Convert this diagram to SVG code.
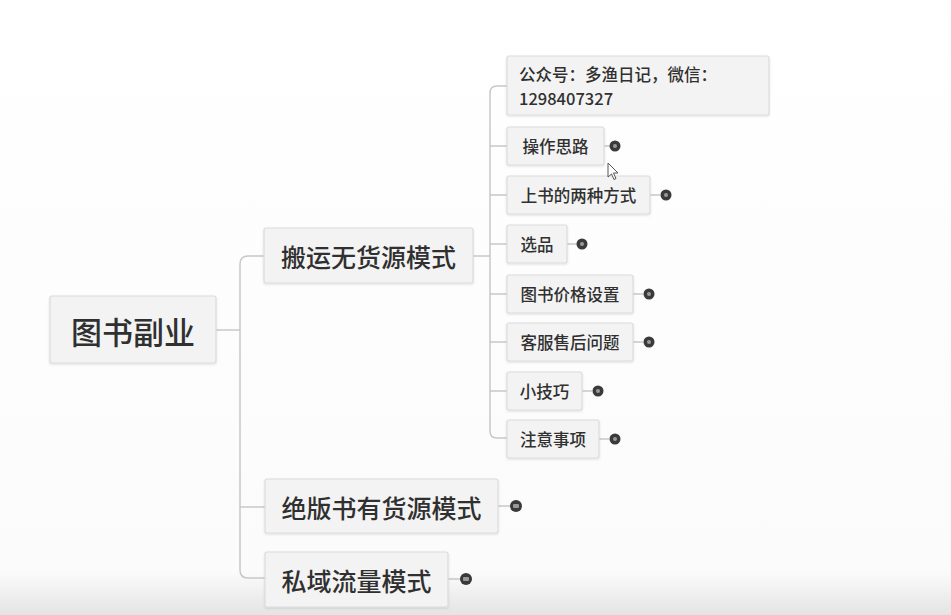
<svg xmlns="http://www.w3.org/2000/svg" width="951" height="615" viewBox="0 0 951 615">
<defs>
<linearGradient id="bg" x1="0" y1="0" x2="0" y2="1">
<stop offset="0" stop-color="#ffffff"/>
<stop offset="0.93" stop-color="#fbfbfb"/>
<stop offset="1" stop-color="#e4e4e4"/>
</linearGradient>
<filter id="sh" x="-10%" y="-10%" width="120%" height="130%">
<feDropShadow dx="0" dy="1" stdDeviation="1" flood-color="#000" flood-opacity="0.12"/>
</filter>
</defs>
<style>
.box{fill:#f3f3f3;stroke:#dcdcdc;stroke-width:1.2;filter:url(#sh)}
.t{font-family:"Noto Sans CJK SC","Noto Sans",sans-serif;fill:#303030;dominant-baseline:central;font-weight:500}
.t1{font-size:31px}
.t2{font-size:25px}
.t3{font-size:16.5px}
.ln{fill:none;stroke:#c8c8c8;stroke-width:1.5}
.bd{fill:#3a3a3a}
.bdi{fill:#9a9a9a}
</style>
<rect width="951" height="615" fill="url(#bg)"/>
<g id="connectors">
<path class="ln" d="M216,330 H240"/>
<path class="ln" d="M264,256 H248 Q240,256 240,264 V570 Q240,578 248,578 H265"/>
<path class="ln" d="M240,507 H265"/>
<path class="ln" d="M473,256 H490"/>
<path class="ln" d="M507,86 H497 Q490,86 490,93 V431 Q490,438 497,438 H507"/>
<path class="ln" d="M490,146 H507 M490,195 H507 M490,244 H507 M490,294 H507 M490,342 H507 M490,391 H507"/>
<path class="ln" d="M604,146 H610 M650,195 H660 M567,244 H577 M633,294 H643 M633,342 H643 M582,391 H592 M599,439 H609 M498,506 H510 M448,579 H460"/>
</g>
<g id="root"><rect class="box" x="50" y="296" width="166" height="67" rx="2"/><text class="t t1" x="133" y="330" text-anchor="middle">图书副业</text></g>
<g id="n1"><rect class="box" x="264" y="228" width="209" height="55" rx="2"/><text class="t t2" x="368.5" y="256" text-anchor="middle">搬运无货源模式</text></g>
<g id="n2"><rect class="box" x="265" y="479" width="233" height="54" rx="2"/><text class="t t2" x="381.5" y="507" text-anchor="middle">绝版书有货源模式</text><circle class="bd" cx="516" cy="506" r="6"/><rect class="bdi" x="513" y="504" width="6" height="4" rx="1"/></g>
<g id="n3"><rect class="box" x="265" y="552" width="183" height="55" rx="2"/><text class="t t2" x="356.5" y="580" text-anchor="middle">私域流量模式</text><circle class="bd" cx="466" cy="579" r="6"/><rect class="bdi" x="463" y="577" width="6" height="4" rx="1"/></g>
<g id="c0"><rect class="box" x="507" y="56" width="262" height="59" rx="2"/><text class="t t3" x="519" y="74">公众号：多渔日记，微信：</text><text class="t t3" x="519" y="98">1298407327</text></g>
<g id="c1"><rect class="box" x="507" y="127" width="97" height="38" rx="2"/><text class="t t3" x="555.5" y="146" text-anchor="middle">操作思路</text><circle class="bd" cx="615" cy="146" r="5.5"/><circle class="bdi" cx="615" cy="146" r="2"/></g>
<g id="c2"><rect class="box" x="507" y="176" width="143" height="38" rx="2"/><text class="t t3" x="578.5" y="195" text-anchor="middle">上书的两种方式</text><circle class="bd" cx="666" cy="195" r="5.5"/><circle class="bdi" cx="666" cy="195" r="2"/></g>
<g id="c3"><rect class="box" x="507" y="225" width="60" height="38" rx="2"/><text class="t t3" x="537" y="244" text-anchor="middle">选品</text><circle class="bd" cx="582" cy="244" r="5.5"/><circle class="bdi" cx="582" cy="244" r="2"/></g>
<g id="c4"><rect class="box" x="507" y="275" width="126" height="38" rx="2"/><text class="t t3" x="570" y="294" text-anchor="middle">图书价格设置</text><circle class="bd" cx="649" cy="294" r="5.5"/><circle class="bdi" cx="649" cy="294" r="2"/></g>
<g id="c5"><rect class="box" x="507" y="323" width="126" height="38" rx="2"/><text class="t t3" x="570" y="342" text-anchor="middle">客服售后问题</text><circle class="bd" cx="649" cy="342" r="5.5"/><circle class="bdi" cx="649" cy="342" r="2"/></g>
<g id="c6"><rect class="box" x="507" y="372" width="75" height="38" rx="2"/><text class="t t3" x="544.5" y="391" text-anchor="middle">小技巧</text><circle class="bd" cx="598" cy="391" r="5.5"/><circle class="bdi" cx="598" cy="391" r="2"/></g>
<g id="c7"><rect class="box" x="507" y="420" width="92" height="38" rx="2"/><text class="t t3" x="553" y="439" text-anchor="middle">注意事项</text><circle class="bd" cx="615" cy="439" r="5.5"/><circle class="bdi" cx="615" cy="439" r="2"/></g>
<path d="M608,163 L608,177 L611.5,174 L614,179.5 L616,178.5 L613.5,173 L618,173 Z" fill="#fff" stroke="#555" stroke-width="1"/>
</svg>
